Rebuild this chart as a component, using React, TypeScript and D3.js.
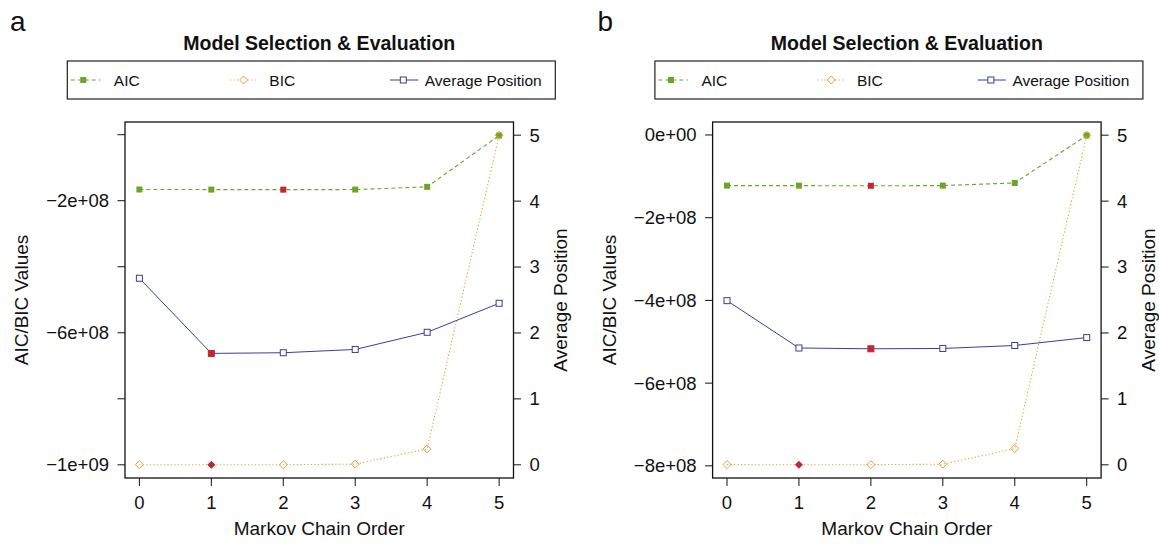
import * as d3 from "d3";

const FONT = "'Liberation Sans', Arial, Helvetica, sans-serif";

// Markov chain orders on the x axis
const orders = [0, 1, 2, 3, 4, 5];

// panel a
const aicA = [-166.0e6, -166.3e6, -166.5e6, -166.2e6, -158.0e6, -2.5e6];
const bicA = [-999.6e6, -1000.0e6, -999.8e6, -998.0e6, -952.0e6, -1.5e6];
const posA = [2.83, 1.69, 1.7, 1.75, 2.01, 2.45];
const leftTicksA = [-1e9, -8e8, -6e8, -4e8, -2e8, 0];

// panel b
const aicB = [-122.4e6, -122.5e6, -122.8e6, -122.4e6, -116.0e6, -1.0e6];
const bicB = [-797.0e6, -797.5e6, -797.2e6, -796.0e6, -758.0e6, -0.5e6];
const posB = [2.49, 1.772, 1.76, 1.765, 1.81, 1.93];
const leftTicksB = [-8e8, -6e8, -4e8, -2e8, 0];

const rightTicks = [0, 1, 2, 3, 4, 5];
const legendLabels = ["AIC", "BIC", "Average Position"];

const GREEN = "#6aa62a";
const ORANGE = "#e5a030";
const BLUE = "#363f98";
const RED = "#c1272d";

const panels = [
  { letter: "a", dx: 0, aic: aicA, bic: bicA, pos: posA, leftTicks: leftTicksA },
  { letter: "b", dx: 587.6, aic: aicB, bic: bicB, pos: posB, leftTicks: leftTicksB },
];

// R style 4% axis padding
function pad([a, b]: [number, number]): [number, number] {
  const r = b - a;
  return [a - 0.04 * r, b + 0.04 * r];
}

// R style scientific labels, e.g. "−2e+08"
function sci(v: number) {
  if (v === 0) return "0e+00";
  const e = Math.floor(Math.log10(Math.abs(v)) + 1e-9);
  const m = Math.round(v / 10 ** e);
  return (m < 0 ? "\u2212" : "") + Math.abs(m) + "e" + (e < 0 ? "-" : "+") + String(Math.abs(e)).padStart(2, "0");
}

function Square({ cx, cy, fill, stroke, s = 6 }: any) {
  return <rect x={cx - s / 2} y={cy - s / 2} width={s} height={s} fill={fill} stroke={stroke} strokeWidth={1} />;
}

function Diamond({ cx, cy, fill, stroke, r = 4 }: any) {
  const d = `M${cx},${cy - r}L${cx + r},${cy}L${cx},${cy + r}L${cx - r},${cy}Z`;
  return <path d={d} fill={fill} stroke={stroke} strokeWidth={1} />;
}

function Panel({ p }: any) {
  const L = 125 + p.dx;
  const R = 513.5 + p.dx;
  const T = 122;
  const B = 478;

  const x = d3.scaleLinear().domain(pad([0, 5])).range([L, R]);
  const ext = d3.extent([...p.aic, ...p.bic]) as [number, number];
  const yL = d3.scaleLinear().domain(pad(ext)).range([B, T]);
  const yR = d3.scaleLinear().domain(pad([0, 5])).range([B, T]);

  const path = (vals: number[], y: any) =>
    d3
      .line<number>()
      .x((_, i) => x(orders[i]))
      .y((v) => y(v))(vals) as string;

  const bestAic = d3.minIndex(p.aic);
  const bestBic = d3.minIndex(p.bic);
  const bestPos = d3.minIndex(p.pos);

  // drop left labels that would collide (like R does)
  let lastY = Infinity;
  const shown = p.leftTicks.map((t: number) => {
    const yy = yL(t);
    if (Math.abs(lastY - yy) >= 70) {
      lastY = yy;
      return true;
    }
    return false;
  });

  const lx = 67.3 + p.dx;
  const cx = (L + R) / 2;
  const cy = (T + B) / 2;

  return (
    <g fontFamily={FONT} fill="#111">
      <text x={10 + p.dx} y={31} fontSize={28}>
        {p.letter}
      </text>
      <text x={cx} y={49.5} fontSize={19.5} fontWeight="bold" textAnchor="middle">
        Model Selection &amp; Evaluation
      </text>

      {/* legend */}
      <rect x={lx} y={61} width={488} height={38} fill="white" stroke="#222" strokeWidth={1.2} />
      <line x1={lx + 3.5} x2={lx + 33} y1={80} y2={80} stroke={GREEN} strokeDasharray="4,3" />
      <Square cx={lx + 16} cy={80} fill={GREEN} stroke="none" />
      <text x={lx + 46.5} y={86} fontSize={15.5}>
        {legendLabels[0]}
      </text>
      <line x1={lx + 162.7} x2={lx + 189.7} y1={80} y2={80} stroke={ORANGE} strokeDasharray="1.2,2.3" />
      <Diamond cx={lx + 176.3} cy={80} fill="white" stroke={ORANGE} />
      <text x={lx + 202} y={86} fontSize={15.5}>
        {legendLabels[1]}
      </text>
      <line x1={lx + 322.7} x2={lx + 351} y1={80} y2={80} stroke={BLUE} />
      <Square cx={lx + 336} cy={80} fill="white" stroke={BLUE} />
      <text x={lx + 357.5} y={86} fontSize={15.5}>
        {legendLabels[2]}
      </text>

      {/* series */}
      <path d={path(p.aic, yL)} fill="none" stroke={GREEN} strokeWidth={1.1} strokeDasharray="4,3" />
      {p.aic.map((v: number, i: number) => (
        <Square key={"a" + i} cx={x(orders[i])} cy={yL(v)} fill={i === bestAic ? RED : GREEN} stroke="none" />
      ))}
      <path d={path(p.bic, yL)} fill="none" stroke={ORANGE} strokeWidth={1.1} strokeDasharray="1.2,2.3" />
      {p.bic.map((v: number, i: number) =>
        i === bestBic ? (
          <Diamond key={"b" + i} cx={x(orders[i])} cy={yL(v)} fill={RED} stroke={RED} r={3.5} />
        ) : (
          <Diamond key={"b" + i} cx={x(orders[i])} cy={yL(v)} fill="none" stroke={ORANGE} />
        )
      )}
      <path d={path(p.pos, yR)} fill="none" stroke={BLUE} strokeWidth={1} />
      {p.pos.map((v: number, i: number) =>
        i === bestPos ? (
          <Square key={"p" + i} cx={x(orders[i])} cy={yR(v)} fill={RED} stroke={RED} />
        ) : (
          <Square key={"p" + i} cx={x(orders[i])} cy={yR(v)} fill="white" stroke={BLUE} />
        )
      )}

      {/* frame */}
      <rect x={L} y={T} width={R - L} height={B - T} fill="none" stroke="#111" strokeWidth={1.3} />

      {/* left axis */}
      {p.leftTicks.map((t: number, i: number) => (
        <g key={"l" + i}>
          <line x1={L - 7.5} x2={L} y1={yL(t)} y2={yL(t)} stroke="#111" />
          {shown[i] && (
            <text x={L - 16} y={yL(t) + 6.4} fontSize={18.5} textAnchor="end">
              {sci(t)}
            </text>
          )}
        </g>
      ))}
      <text transform={`translate(${L - 97},${cy}) rotate(-90)`} fontSize={19} textAnchor="middle">
        AIC/BIC Values
      </text>

      {/* right axis */}
      {rightTicks.map((t) => (
        <g key={"r" + t}>
          <line x1={R} x2={R + 7.5} y1={yR(t)} y2={yR(t)} stroke="#111" />
          <text x={R + 16} y={yR(t) + 6.4} fontSize={18.5}>
            {t}
          </text>
        </g>
      ))}
      <text transform={`translate(${R + 53.5},${cy}) rotate(-90)`} fontSize={19} textAnchor="middle">
        Average Position
      </text>

      {/* bottom axis */}
      {orders.map((o) => (
        <g key={"x" + o}>
          <line x1={x(o)} x2={x(o)} y1={B} y2={B + 8} stroke="#111" />
          <text x={x(o)} y={508.5} fontSize={18.5} textAnchor="middle">
            {o}
          </text>
        </g>
      ))}
      <text x={cx} y={535} fontSize={19} textAnchor="middle">
        Markov Chain Order
      </text>
    </g>
  );
}

export default function App() {
  return (
    <svg
      width={1159}
      height={544}
      viewBox="0 0 1159 544"
      style={{ position: "absolute", left: 0, top: 0, background: "white" }}
    >
      <rect width={1159} height={544} fill="white" />
      {panels.map((p) => (
        <Panel key={p.letter} p={p} />
      ))}
    </svg>
  );
}
